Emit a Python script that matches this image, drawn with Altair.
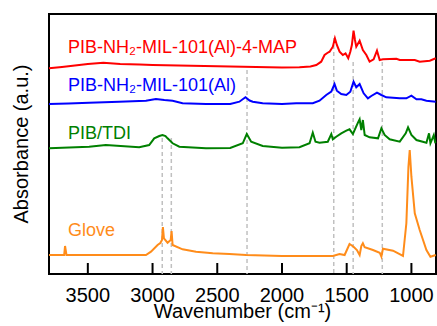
import altair as alt
import pandas as pd

# ---- data ----
series_names = ["PIB-NH₂-MIL-101(Al)-4-MAP", "PIB-NH₂-MIL-101(Al)", "PIB/TDI", "Glove"]
series_colors = ["#ff0000", "#0000ff", "#008000", "#ff8c1a"]

wn_red = [3800, 3700, 3600, 3500, 3380, 3250, 3100, 3000, 2800, 2600, 2400, 2200, 2000, 1865, 1780, 1735,
          1697, 1671, 1650, 1632, 1607, 1591, 1576, 1555, 1530, 1509, 1488, 1472, 1460, 1447, 1436, 1426,
          1400, 1375, 1348, 1323, 1292, 1266, 1245, 1220, 1116, 1090, 974, 936, 858, 812]
ab_red = [2.057, 2.07, 2.085, 2.10, 2.112, 2.10, 2.095, 2.09, 2.085, 2.08, 2.075, 2.07, 2.065, 2.067, 2.075, 2.09,
          2.123, 2.19, 2.21, 2.223, 2.273, 2.357, 2.29, 2.223, 2.19, 2.207, 2.157, 2.223, 2.29, 2.433, 2.34, 2.273,
          2.333, 2.24, 2.19, 2.123, 2.147, 2.233, 2.14, 2.147, 2.153, 2.14, 2.14, 2.123, 2.133, 2.157]

wn_blue = [3800, 3650, 3490, 3258, 3051, 2974, 2909, 2845, 2768, 2587, 2400, 2329, 2282, 2250, 2226, 2149,
           2000, 1890, 1762, 1710, 1658, 1619, 1594, 1576, 1542, 1503, 1472, 1447, 1426, 1400, 1369, 1336,
           1310, 1266, 1232, 1194, 1090, 1039, 1000, 961, 923, 884, 812]
ab_blue = [1.70, 1.705, 1.713, 1.723, 1.733, 1.75, 1.74, 1.733, 1.707, 1.70, 1.70, 1.723, 1.767, 1.735, 1.723, 1.707,
           1.70, 1.707, 1.707, 1.733, 1.79, 1.823, 1.90, 1.833, 1.80, 1.79, 1.823, 1.923, 1.867, 1.90, 1.807, 1.757,
           1.78, 1.813, 1.79, 1.767, 1.757, 1.757, 1.783, 1.747, 1.747, 1.733, 1.723]

wn_green = [3800, 3490, 3361, 3103, 3026, 2987, 2948, 2923, 2900, 2884, 2845, 2793, 2587, 2400, 2303, 2272,
            2238, 2149, 2000, 1865, 1787, 1762, 1741, 1710, 1646, 1619, 1607, 1581, 1542, 1503, 1478, 1452,
            1413, 1400, 1387, 1375, 1361, 1323, 1258, 1232, 1207, 1168, 1090, 1044, 1026, 1000, 961, 884,
            864, 853, 827, 815]
ab_green = [1.257, 1.273, 1.29, 1.267, 1.29, 1.357, 1.38, 1.39, 1.38, 1.357, 1.307, 1.273, 1.257, 1.26, 1.307, 1.40,
            1.323, 1.28, 1.262, 1.267, 1.307, 1.413, 1.323, 1.313, 1.323, 1.40, 1.347, 1.373, 1.407, 1.433, 1.447, 1.40,
            1.513, 1.547, 1.44, 1.54, 1.39, 1.367, 1.357, 1.457, 1.39, 1.347, 1.323, 1.407, 1.467, 1.39, 1.34, 1.313,
            1.407, 1.307, 1.39, 1.307]

wn_orange = [3800, 3683, 3676, 3665, 3400, 3051, 3012, 2961, 2940, 2927, 2920, 2912, 2884, 2860, 2853, 2845,
             2768, 2664, 2535, 2406, 2277, 2000, 1607, 1555, 1516, 1478, 1447, 1421, 1400, 1387, 1375, 1361,
             1297, 1245, 1232, 1220, 1142, 1065, 1039, 1023, 1013, 1000, 974, 936, 884, 853, 812]
ab_orange = [0.19, 0.19, 0.28, 0.19, 0.19, 0.19, 0.223, 0.29, 0.31, 0.34, 0.47, 0.357, 0.313, 0.34, 0.43, 0.29,
             0.247, 0.223, 0.207, 0.20, 0.19, 0.18, 0.18, 0.20, 0.19, 0.30, 0.273, 0.24, 0.19, 0.28, 0.307, 0.267,
             0.24, 0.213, 0.173, 0.253, 0.233, 0.18, 0.507, 1.073, 1.24, 0.973, 0.607, 0.44, 0.24, 0.173, 0.19]

# dashed guide lines
guide_wn = [2925, 2855, 2270, 1600, 1450, 1225]
guide_top = [1.36, 1.36, 2.04, 2.36, 2.12, 2.12]

# series labels
label_wn = [3653, 3653, 3653, 3653]
label_ab = [2.215, 1.83, 1.35, 0.38]

x_ticks = [3500, 3000, 2500, 2000, 1500, 1000]
x_title = "Wavenumber (cm⁻¹)"
y_title = "Absorbance (a.u.)"

# ---- tables ----
rows = []
for name, wn, ab in zip(series_names, [wn_red, wn_blue, wn_green, wn_orange],
                        [ab_red, ab_blue, ab_green, ab_orange]):
    for i, (w, a) in enumerate(zip(wn, ab)):
        rows.append({"series": name, "wn": w, "ab": a, "i": i})
spec = pd.DataFrame(rows)
guides = pd.DataFrame({"wn": guide_wn, "top": guide_top, "bot": [0] * len(guide_wn)})
labels = pd.DataFrame({"wn": label_wn, "ab": label_ab, "series": series_names})
ticks = pd.DataFrame({"wn": x_ticks})
xt = pd.DataFrame({"t": [x_title]})
yt = pd.DataFrame({"t": [y_title]})

FONT = "Liberation Sans"
xscale = alt.Scale(domain=[810, 3800], reverse=True, nice=False, zero=False)
yscale = alt.Scale(domain=[0, 2.6], nice=False, zero=False)
cscale = alt.Scale(domain=series_names, range=series_colors)

guide_layer = alt.Chart(guides).mark_rule(color="#c0c0c0", strokeWidth=1.5, strokeDash=[4, 3]).encode(
    x=alt.X("wn:Q", scale=xscale, axis=None),
    y=alt.Y("top:Q", scale=yscale, axis=None),
    y2="bot:Q",
)

line_layer = alt.Chart(spec).mark_line(strokeWidth=2).encode(
    x=alt.X("wn:Q", scale=xscale, axis=None),
    y=alt.Y("ab:Q", scale=yscale, axis=None),
    color=alt.Color("series:N", scale=cscale, legend=None),
    order="i:Q",
)

text_layer = alt.Chart(labels).mark_text(align="left", baseline="alphabetic", fontSize=18, font=FONT).encode(
    x=alt.X("wn:Q", scale=xscale, axis=None),
    y=alt.Y("ab:Q", scale=yscale, axis=None),
    text="series:N",
    color=alt.Color("series:N", scale=cscale, legend=None),
)

# inward ticks on the bottom edge
tick_layer = alt.Chart(ticks).mark_rule(color="black", strokeWidth=2).encode(
    x=alt.X("wn:Q", scale=xscale, axis=None),
    y=alt.value(260),
    y2=alt.value(249),
)

# tick labels
tick_label_layer = alt.Chart(ticks).mark_text(
    align="center", baseline="alphabetic", fontSize=20, font=FONT, color="black"
).encode(
    x=alt.X("wn:Q", scale=xscale, axis=None),
    y=alt.value(288),
    text=alt.Text("wn:Q", format="d"),
)

# axis titles
x_title_layer = alt.Chart(xt).mark_text(
    align="center", baseline="alphabetic", fontSize=20, font=FONT, color="black"
).encode(x=alt.value(193.5), y=alt.value(303.5), text="t:N")

y_title_layer = alt.Chart(yt).mark_text(
    align="center", baseline="alphabetic", fontSize=20, font=FONT, color="black", angle=270
).encode(x=alt.value(-21), y=alt.value(130), text="t:N")

chart = alt.layer(
    guide_layer, line_layer, text_layer, tick_layer, tick_label_layer, x_title_layer, y_title_layer
).properties(
    width=387, height=260,
    background="white",
    autosize=alt.AutoSizeParams(type="none"),
    padding={"left": 49, "top": 14, "right": 1, "bottom": 52},
).configure_view(
    stroke="black", strokeWidth=2
)

chart.save("out.html", embed_options={"renderer": "svg", "actions": False})
